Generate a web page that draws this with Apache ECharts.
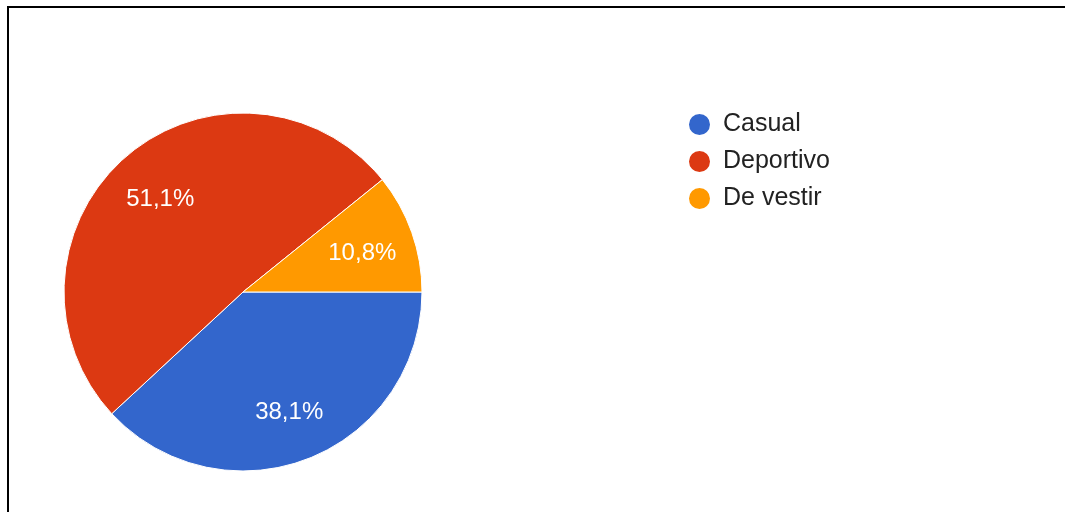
<!DOCTYPE html>
<html>
<head>
<meta charset="utf-8">
<script src="https://cdn.jsdelivr.net/npm/echarts@6/dist/echarts.min.js"></script>
<style>
  html, body { margin: 0; padding: 0; background: #fff; }
  #chart { width: 1065px; height: 512px; }
</style>
</head>
<body>
<div id="chart"></div>
<script>
// Preferred clothing style, share of answers (%)
const categories = ['Casual', 'Deportivo', 'De vestir'];
const shares = [38.1, 51.1, 10.8];
const colors = ['#3366cc', '#dc3912', '#ff9900'];

const FONT = '"Liberation Sans", Arial, sans-serif';
const pieData = categories.map((name, i) => ({ name, value: shares[i] }));
const fmt = p => p.value.toFixed(1).replace('.', ',') + '%';

const chart = echarts.init(document.getElementById('chart'), null, { renderer: 'canvas' });
chart.setOption({
  animation: false,
  color: colors,
  graphic: [{
    type: 'polyline',
    shape: { points: [[8, 512], [8, 7], [1065, 7]] },
    style: { stroke: '#000', lineWidth: 2, fill: null },
    silent: true
  }],
  legend: {
    orient: 'vertical',
    left: 687,
    top: 112,
    padding: 0,
    icon: 'circle',
    itemWidth: 23,
    itemHeight: 23,
    itemGap: 12,
    data: categories,
    textStyle: { fontFamily: FONT, fontSize: 25, color: '#222', padding: [0, 0, 0, 7] },
    selectedMode: false
  },
  series: [
    {
      // slices
      type: 'pie',
      center: [243, 292],
      radius: [0, 179],
      startAngle: 0,
      clockwise: true,
      data: pieData,
      label: { show: false },
      labelLine: { show: false },
      itemStyle: { borderColor: '#fff', borderWidth: 1 },
      emphasis: { disabled: true }
    },
    {
      // percentage labels, placed part way out along each slice
      type: 'pie',
      center: [243, 292],
      radius: [68, 179],
      startAngle: 0,
      clockwise: true,
      silent: true,
      legendHoverLink: false,
      data: pieData.map(d => ({ ...d, itemStyle: { color: 'rgba(0,0,0,0)' } })),
      itemStyle: { borderWidth: 0 },
      label: {
        show: true,
        position: 'inside',
        formatter: fmt,
        color: '#fff',
        fontFamily: FONT,
        fontSize: 24,
        offset: [0, 3]
      },
      labelLine: { show: false },
      emphasis: { disabled: true }
    }
  ]
});
</script>
</body>
</html>
